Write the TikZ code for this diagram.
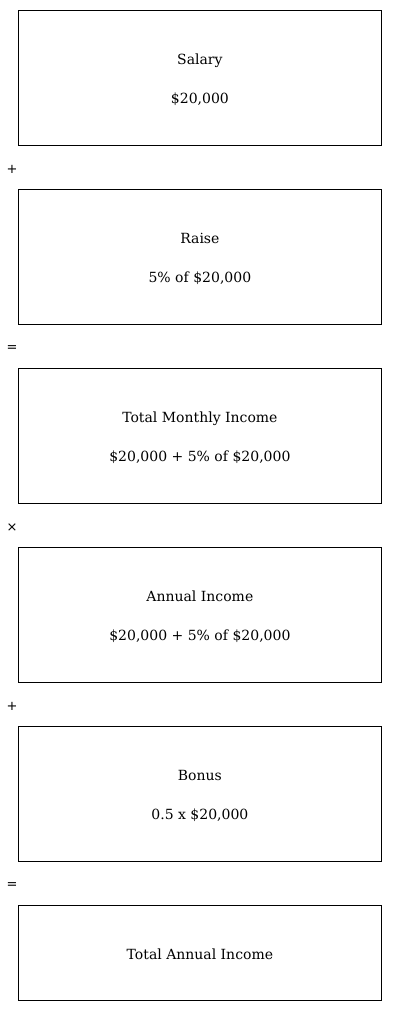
\documentclass[tikz,border=0pt]{standalone}
\usepackage{fontspec}
\newfontfamily\opfont{DejaVu Sans}
\newfontfamily\txtfont{DejaVu Serif}
\begin{document}
\begin{tikzpicture}[x=1pt,y=-1pt,
  box/.style={draw=black,line width=0.8pt,minimum width=363pt,inner sep=0pt,anchor=north west},
  tall/.style={box,minimum height=135pt},
  short/.style={box,minimum height=95pt},
  txt/.style={font=\txtfont\fontsize{14}{17}\selectfont,anchor=base},
  op/.style={font=\opfont\fontsize{13}{15}\selectfont}]
\useasboundingbox (0,0) rectangle (400,1012);
\node[tall] (b1) at (18,10) {};
\node[tall] (b2) at (18,189) {};
\node[tall] (b3) at (18,368) {};
\node[tall] (b4) at (18,547) {};
\node[tall] (b5) at (18,726) {};
\node[short] (b6) at (18,905) {};
\foreach \n/\t/\v in {b1/Salary/{\$20,000}, b2/Raise/{5\% of \$20,000}, b3/Total Monthly Income/{\$20,000 + 5\% of \$20,000}, b4/Annual Income/{\$20,000 + 5\% of \$20,000}, b5/Bonus/{0.5 x \$20,000}}{
  \node[txt] (\n t) at ([yshift=13.5pt]\n.center) {\t};
  \node[txt] (\n v) at ([yshift=-25.5pt]\n.center) {\v};
}
\node[txt] (b6t) at ([yshift=-6.5pt]b6.center) {Total Annual Income};
\node[op] (o1) at (12,169.5) {+};
\node[op] (o2) at (12,348.5) {=};
\node[op] (o3) at (12,527.5) {×};
\node[op] (o4) at (12,706.5) {+};
\node[op] (o5) at (12,885.5) {=};
\end{tikzpicture}
\end{document}
